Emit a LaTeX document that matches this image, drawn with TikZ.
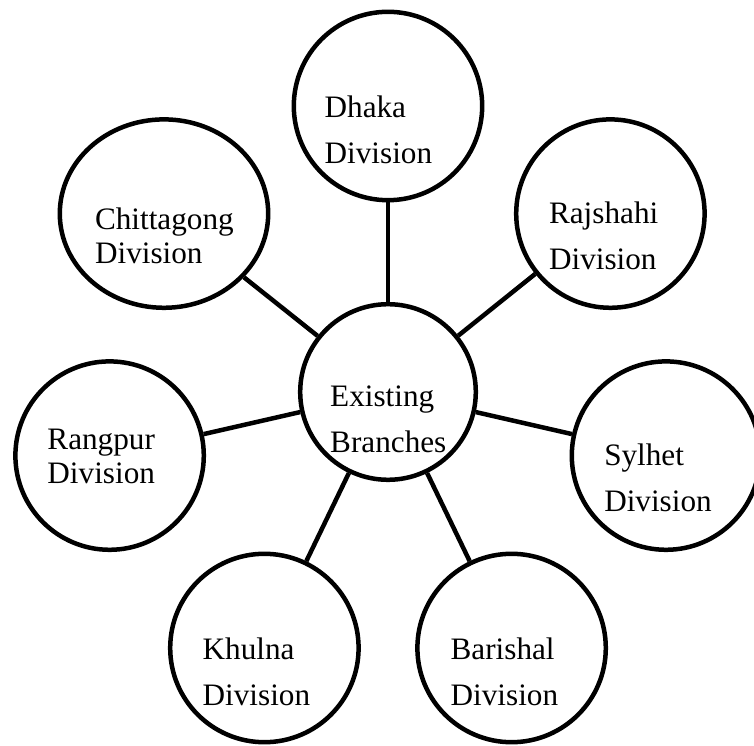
\documentclass[tikz,border=0pt]{standalone}
\usepackage{fontspec}
\setmainfont{Liberation Serif}
\usetikzlibrary{shapes.geometric}

\begin{document}
\begin{tikzpicture}[line width=3.2pt,
    division/.style={draw,circle,minimum size=4.71cm,inner sep=0pt},
    divtext/.style={anchor=base west,align=left,inner sep=0pt,font=\fontsize{22.2}{32.7}\selectfont},
    tighttext/.style={divtext,font=\fontsize{22.2}{24.2}\selectfont}]
    \useasboundingbox (-9.7,-8.85) rectangle (9.15,9.8);
    \node[division,minimum size=4.39cm] at (0,0) (hub) {};
    \node[division] at (0,7.15) (dhaka) {};
    \node[division,ellipse,minimum width=5.21cm,minimum height=4.71cm] at (-5.6,4.46) (ctg) {};
    \node[division] at (5.56,4.46) (rajshahi) {};
    \node[division] at (-6.96,-1.59) (rangpur) {};
    \node[division] at (6.95,-1.59) (sylhet) {};
    \node[division] at (-3.09,-6.4) (khulna) {};
    \node[division] at (3.09,-6.4) (barishal) {};
    \node[divtext] at ([shift={(-1.5,-1.52)}]hub.center) (hubtxt) {Existing\\Branches};
    \node[divtext] at ([shift={(-1.64,-1.43)}]dhaka.center) (dhakatxt) {Dhaka\\Division};
    \node[tighttext] at ([shift={(-1.78,-1.26)}]ctg.center) (ctgtxt) {Chittagong\\Division};
    \node[divtext] at ([shift={(-1.59,-1.4)}]rajshahi.center) (rajshahitxt) {Rajshahi\\Division};
    \node[tighttext] at ([shift={(-1.61,-0.7)}]rangpur.center) (rangpurtxt) {Rangpur\\Division};
    \node[divtext] at ([shift={(-1.6,-1.39)}]sylhet.center) (sylhettxt) {Sylhet\\Division};
    \node[divtext] at ([shift={(-1.6,-1.43)}]khulna.center) (khulnatxt) {Khulna\\Division};
    \node[divtext] at ([shift={(-1.58,-1.43)}]barishal.center) (barishaltxt) {Barishal\\Division};
    \path (hub) edge (dhaka);
    \path (hub) edge (ctg);
    \path (hub) edge (rajshahi);
    \path (hub) edge (rangpur);
    \path (hub) edge (sylhet);
    \path (hub) edge (khulna);
    \path (hub) edge (barishal);
\end{tikzpicture}
\end{document}
